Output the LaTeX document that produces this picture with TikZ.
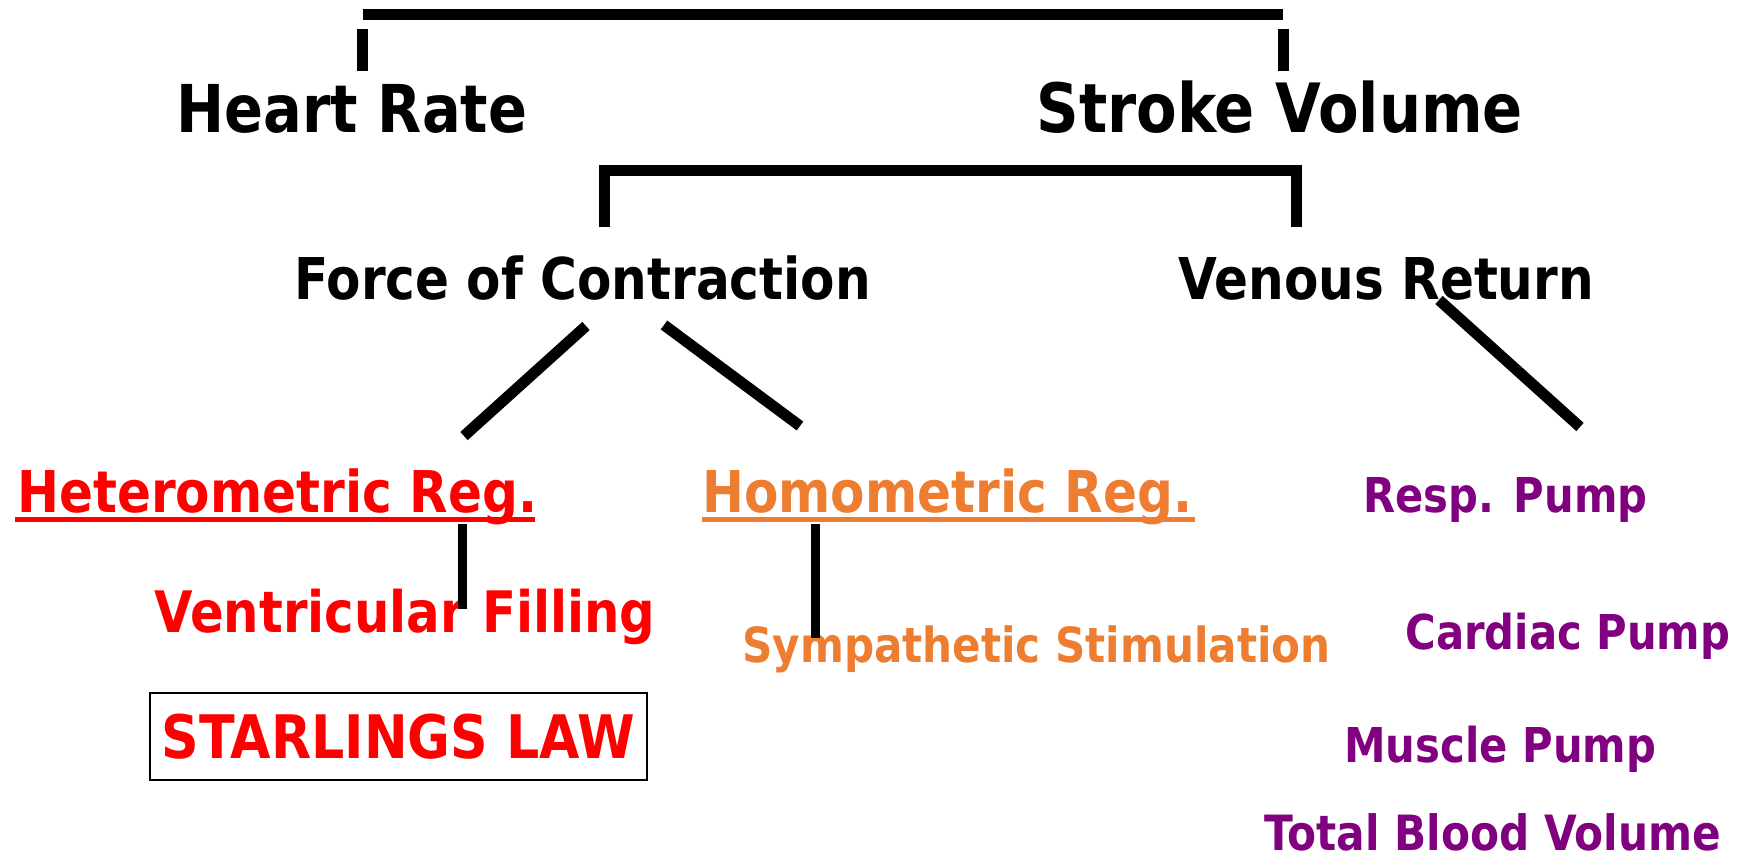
\documentclass[tikz,border=0pt]{standalone}
\usepackage{fontspec}
\setmainfont{DejaVu Sans}[FakeStretch=0.87]
\definecolor{cred}{HTML}{FF0000}
\definecolor{corange}{HTML}{ED7D31}
\definecolor{cpurple}{HTML}{800080}
\newcommand\fsz[1]{\fontsize{#1}{#1}\selectfont}
\tikzset{
  lbl/.style={inner sep=0pt, anchor=base west},
  conn/.style={line width=5.5pt},
  vconn/.style={line width=4.5pt},
  uline/.style={line width=2.5pt},
}
\begin{document}
\begin{tikzpicture}[x=0.5pt,y=-0.5pt]
\useasboundingbox[fill=white] (0,0) rectangle (1740,856);
% texts
\node[lbl, font=\bfseries\fsz{33}] (hr) at (176,133) {Heart Rate};
\node[lbl, font=\bfseries\fsz{34}] (sv) at (1036,133) {Stroke Volume};
\node[lbl, font=\bfseries\fsz{28.8}] (fc) at (294,299) {Force of Contraction};
\node[lbl, font=\bfseries\fsz{28.8}] (vr) at (1178,299) {Venous Return};
\node[lbl, font=\bfseries\fsz{28.8}, text=cred] (het) at (17,512) {Heterometric Reg.};
\node[lbl, font=\bfseries\fsz{28.8}, text=corange] (hom) at (702,512) {Homometric Reg.};
\node[lbl, font=\bfseries\fsz{28.6}, text=cred] (vf) at (154,632) {Ventricular Filling};
\node[lbl, font=\bfseries\fsz{24.2}, text=corange] (ss) at (742,662) {Sympathetic Stimulation};
\node[draw=black, line width=1pt, text=cred, font=\bfseries\fsz{30}, minimum width=248.5pt, minimum height=43.5pt, inner sep=0pt] (sl) at (398.5,736.5) {STARLINGS LAW};
\node[lbl, font=\bfseries\fsz{24}, text=cpurple] (rp) at (1363,512) {Resp. Pump};
\node[lbl, font=\bfseries\fsz{24}, text=cpurple] (cp) at (1405,649) {Cardiac Pump};
\node[lbl, font=\bfseries\fsz{24}, text=cpurple] (mp) at (1344,762) {Muscle Pump};
\node[lbl, font=\bfseries\fsz{24.3}, text=cpurple] (tb) at (1264,850) {Total Blood Volume};
% connector ends
\coordinate (topL) at (363,14.7);
\coordinate (topR) at (1283,14.7);
\coordinate (hrT) at (362,29);
\coordinate (hrB) at (362,71);
\coordinate (svT) at (1283.5,29);
\coordinate (svB) at (1283.5,71);
\coordinate (fcB) at (604,227);
\coordinate (brL) at (604,170.5);
\coordinate (brR) at (1296,170.5);
\coordinate (vrB) at (1296,227);
\coordinate (fcL) at (586,326);
\coordinate (hetT) at (464,436);
\coordinate (fcR) at (664,325);
\coordinate (homT) at (800,426);
\coordinate (vrD) at (1439,300);
\coordinate (rpT) at (1580,427);
\coordinate (hetB) at (462,524);
\coordinate (vfT) at (462,609);
\coordinate (homB) at (815,524);
\coordinate (ssT) at (815,638);
\coordinate (hetU1) at (15,519.5);
\coordinate (hetU2) at (535,519.5);
\coordinate (homU1) at (702,519.5);
\coordinate (homU2) at (1195,519.5);
% connectors
\draw[conn] (topL) -- (topR);
\draw[conn] (hrT) -- (hrB);
\draw[conn] (svT) -- (svB);
\draw[conn] (fcB) -- (brL) -- (brR) -- (vrB);
\draw[conn] (fcL) -- (hetT);
\draw[conn] (fcR) -- (homT);
\draw[conn] (vrD) -- (rpT);
\draw[vconn] (hetB) -- (vfT);
\draw[vconn] (homB) -- (ssT);
\draw[uline, cred] (hetU1) -- (hetU2);
\draw[uline, corange] (homU1) -- (homU2);
\end{tikzpicture}
\end{document}
